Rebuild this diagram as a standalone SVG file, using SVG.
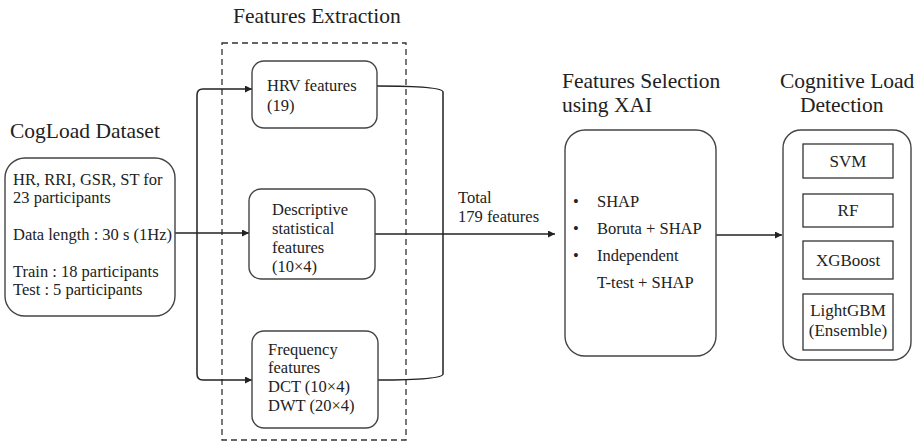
<svg xmlns="http://www.w3.org/2000/svg" width="916" height="443" viewBox="0 0 916 443">
  <style>
    text { font-family: "Liberation Serif", "DejaVu Serif", serif; fill: #222; }
    .title { font-size: 21.5px; }
    .body { font-size: 16.5px; }
    .model { font-size: 17px; text-anchor: middle; }
    .box { fill: #fff; stroke: #444; stroke-width: 1.4; }
    .inner { fill: #fff; stroke: #333; stroke-width: 1.3; }
    .dash { fill: none; stroke: #333; stroke-width: 1.3; stroke-dasharray: 6 4; }
    .wire { fill: none; stroke: #222; stroke-width: 1.5; }
  </style>
  <defs>
    <marker id="arrow" viewBox="0 0 10 10" refX="10" refY="5" markerWidth="7" markerHeight="7" markerUnits="userSpaceOnUse" orient="auto">
      <path d="M0,0 L10,5 L0,10 z" fill="#222"/>
    </marker>
  </defs>

  <!-- section titles -->
  <g id="titles">
    <text class="title" x="10" y="138">CogLoad Dataset</text>
    <text class="title" x="233" y="23">Features Extraction</text>
    <text class="title" x="562" y="88">Features Selection</text>
    <text class="title" x="562" y="112">using XAI</text>
    <text class="title" x="780" y="88">Cognitive Load</text>
    <text class="title" x="800" y="112">Detection</text>
  </g>

  <!-- extraction stage frame -->
  <rect id="extraction-frame" class="dash" x="222" y="43" width="184" height="397"/>

  <!-- connectors -->
  <g id="connectors">
    <path class="wire" d="M175,233 H249" marker-end="url(#arrow)"/>
    <path class="wire" d="M197,233 V95 Q197,89 203,89 H252" marker-end="url(#arrow)"/>
    <path class="wire" d="M197,233 V374 Q197,380 203,380 H252" marker-end="url(#arrow)"/>
    <path class="wire" d="M377,86 C410,86 443,87 443,92 V374 C443,379 410,380 378,380"/>
    <path class="wire" d="M375,234 H555" marker-end="url(#arrow)"/>
    <path class="wire" d="M716,235 H782" marker-end="url(#arrow)"/>
  </g>

  <g id="dataset">
    <rect class="box" x="5" y="158" width="170" height="158" rx="20"/>
    <text class="body" x="13" y="185">HR, RRI, GSR, ST for</text>
    <text class="body" x="13" y="203">23 participants</text>
    <text class="body" x="13" y="240">Data length : 30 s (1Hz)</text>
    <text class="body" x="13" y="277">Train : 18 participants</text>
    <text class="body" x="13" y="295">Test : 5 participants</text>
  </g>

  <g id="hrv">
    <rect class="box" x="252" y="61" width="125" height="67" rx="12"/>
    <text class="body" x="267" y="91">HRV features</text>
    <text class="body" x="267" y="111">(19)</text>
  </g>

  <g id="descriptive">
    <rect class="box" x="249" y="189" width="126" height="90" rx="12"/>
    <text class="body" x="272" y="215">Descriptive</text>
    <text class="body" x="272" y="234">statistical</text>
    <text class="body" x="272" y="253">features</text>
    <text class="body" x="272" y="272">(10×4)</text>
  </g>

  <g id="frequency">
    <rect class="box" x="252" y="331" width="126" height="97" rx="12"/>
    <text class="body" x="268" y="355">Frequency</text>
    <text class="body" x="268" y="373">features</text>
    <text class="body" x="268" y="392">DCT (10×4)</text>
    <text class="body" x="268" y="411">DWT (20×4)</text>
  </g>

  <g id="total-label">
    <text class="body" x="458" y="203">Total</text>
    <text class="body" x="458" y="222">179 features</text>
  </g>

  <g id="selection">
    <rect class="box" x="565" y="130" width="151" height="226" rx="20"/>
    <text class="body" x="573" y="207">•</text>
    <text class="body" x="597" y="207">SHAP</text>
    <text class="body" x="573" y="234">•</text>
    <text class="body" x="597" y="234">Boruta + SHAP</text>
    <text class="body" x="573" y="261">•</text>
    <text class="body" x="597" y="261">Independent</text>
    <text class="body" x="597" y="288">T-test + SHAP</text>
  </g>

  <g id="detection">
    <rect class="box" x="783" y="130" width="128" height="230" rx="18"/>
    <g id="svm">
      <rect class="inner" x="803" y="144" width="90" height="34"/>
      <text class="model" x="848" y="167">SVM</text>
    </g>
    <g id="rf">
      <rect class="inner" x="803" y="194" width="90" height="33"/>
      <text class="model" x="848" y="216">RF</text>
    </g>
    <g id="xgboost">
      <rect class="inner" x="803" y="241" width="90" height="38"/>
      <text class="model" x="848" y="266">XGBoost</text>
    </g>
    <g id="lightgbm">
      <rect class="inner" x="803" y="294" width="90" height="56"/>
      <text class="model" x="848" y="316">LightGBM</text>
      <text class="model" x="848" y="336">(Ensemble)</text>
    </g>
  </g>
</svg>
